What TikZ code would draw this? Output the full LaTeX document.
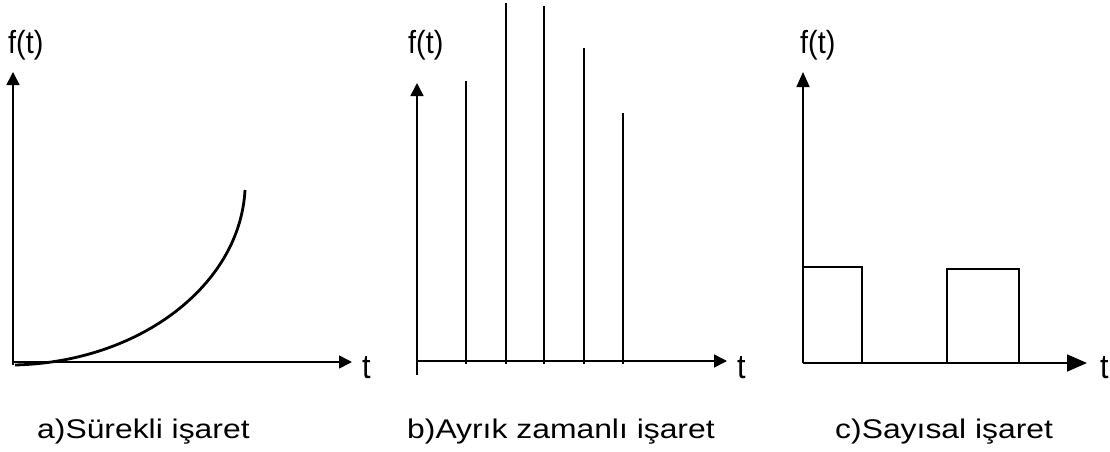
\documentclass[tikz,border=0pt]{standalone}
\usepackage{fontspec}
\setmainfont{Liberation Sans}
\newfontfamily\capfont[FakeStretch=1.18]{Liberation Sans}
\newfontfamily\axisfont[FakeStretch=0.9]{Liberation Sans}
\usetikzlibrary{arrows.meta}

\begin{document}
\begin{tikzpicture}[
    x=1pt,y=-1pt,
    axis/.style={line width=1.6pt,-{Triangle[length=13pt,width=13pt]}},
    bigaxis/.style={line width=1.6pt,-{Triangle[length=20pt,width=17pt]}},
    axislabel/.style={inner sep=0pt,anchor=base west,font=\axisfont\fontsize{32}{38}\selectfont},
    tlabel/.style={inner sep=0pt,anchor=base west,font=\axisfont\fontsize{34}{40}\selectfont},
    caption/.style={inner sep=0pt,anchor=base west,font=\capfont\fontsize{27}{32}\selectfont},
    stem/.style={line width=2.4pt},
    pulse/.style={line width=2pt}
]
\useasboundingbox (0,0) rectangle (1110,452);

% a) Continuous signal
\coordinate (aO) at (13,362);
\coordinate (aB) at (13,365);
\coordinate (aY) at (13,72);
\coordinate (aX) at (352,362);
\draw[axis] (aB) -- (aY);
\draw[axis] (aO) -- (aX);
\draw[line width=2.8pt] (15,365) .. controls (140,362) and (240,285) .. (245,190);
\node[axislabel] (afy) at (8,53) {f(t)};
\node[tlabel] (aft) at (362,378) {t};
\node[caption] (acap) at (37,438) {a)Sürekli işaret};

% b) Discrete-time signal
\coordinate (bO) at (417,361);
\coordinate (bB) at (417,375);
\coordinate (bY) at (417,83);
\coordinate (bX) at (727,361);
\draw[axis] (bB) -- (bY);
\draw[axis] (bO) -- (bX);
\foreach \x/\h in {466/81,506/3,544/6,584/48,623/113}
    \draw[stem] (\x,364) -- (\x,\h);
\node[axislabel] (bfy) at (408,53) {f(t)};
\node[tlabel] (bft) at (737,378) {t};
\node[caption] (bcap) at (407,438) {b)Ayrık zamanlı işaret};

% c) Digital signal
\coordinate (cO) at (803,363);
\coordinate (cY) at (803,72);
\coordinate (cX) at (1087,363);
\draw[axis,-{Triangle[length=15pt,width=13pt]}] (cO) -- (cY);
\draw[bigaxis] (cO) -- (cX);
\draw[pulse] (803,363) -- (803,267) -- (862,267) -- (862,363);
\draw[pulse] (947,363) -- (947,269) -- (1019,269) -- (1019,363);
\node[axislabel] (cfy) at (800,53) {f(t)};
\node[tlabel] (cft) at (1100,378) {t};
\node[caption] (ccap) at (835,438) {c)Sayısal işaret};

\end{tikzpicture}
\end{document}
